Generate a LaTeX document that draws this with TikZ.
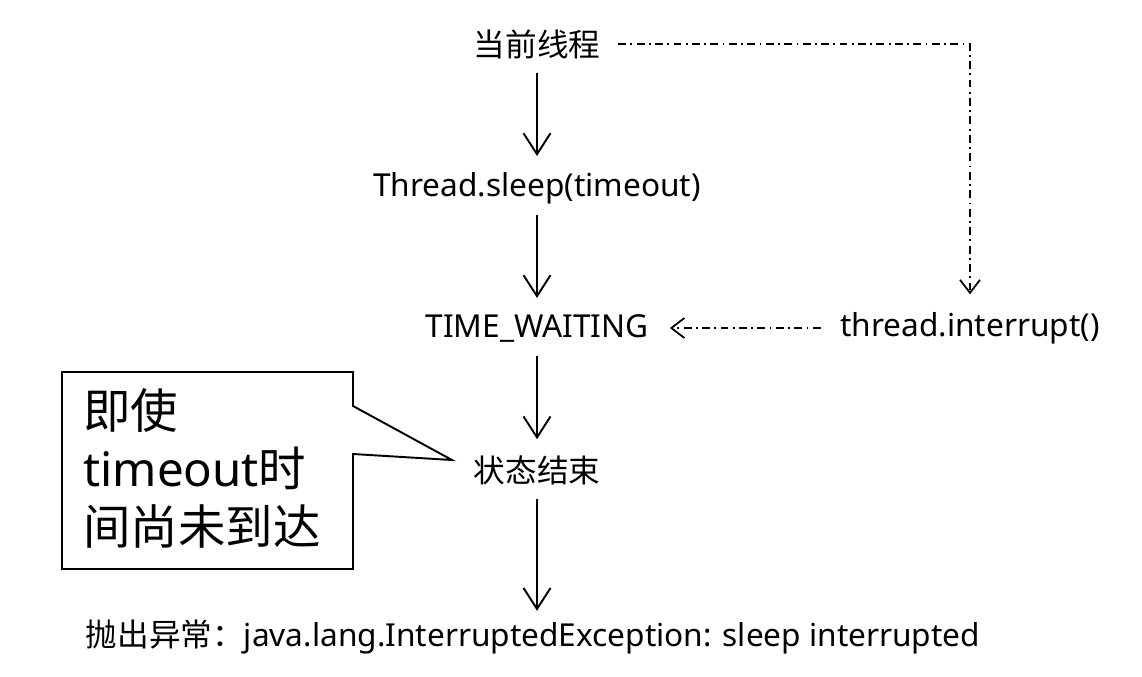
\documentclass[tikz,border=0pt]{standalone}
\usepackage{fontspec}
\setmainfont{Noto Sans}
\newfontfamily\cjk{Noto Sans CJK SC}
\usepackage{tikz}
\usetikzlibrary{arrows.meta,positioning}

\begin{document}
\begin{tikzpicture}[x=0.02cm,y=-0.02cm]

		\tikzset{
		    label text/.style={inner sep=0pt, font=\fontsize{18}{22}\selectfont},
		    flow/.style={line width=1.1pt, -{Straight Barb[length=4.2mm,width=5.4mm,line width=1.1pt]}},
		    dashdot/.style={line width=1pt, dash pattern=on 4.5pt off 2.5pt on 1pt off 2.5pt,
		        -{Straight Barb[length=2.6mm,width=4mm,line width=1pt]}}
		}

		\useasboundingbox (0,0) rectangle (1142,676);

		% flow nodes

		\node[label text] (cur) at (537,44) {\cjk 当前线程};
		\node[label text] (sleep) at (537,188) {Thread.sleep(timeout)};
		\node[label text] (waiting) at (537,328) {TIME\_WAITING};
		\node[label text] (finish) at (537,470) {\cjk 状态结束};
		\node[label text] (exc) at (533,637) {{\cjk 抛出异常：}java.lang.InterruptedException: sleep interrupted};
		\node[label text] (interrupt) at (970,328) {thread.interrupt()};

		% arrows

		\draw[flow, shorten <=8pt, shorten >=9pt] (cur) -- (sleep);
		\draw[flow, shorten <=6pt, shorten >=9pt] (sleep) -- (waiting);
		\draw[flow, shorten <=8pt, shorten >=9pt] (waiting) -- (finish);
		\draw[flow, shorten <=8pt, shorten >=5pt] (finish) -- (finish |- exc.north);

		\draw[dashdot, shorten <=10pt, shorten >=10pt] (cur.east) -| (interrupt.north);
		\draw[dashdot, shorten <=11pt, shorten >=12pt] (interrupt.west) -- (waiting.east);

		% callout

		\draw[line width=1.1pt, line join=miter] (62,372) -- (353,372) -- (353,406) -- (452,460)
		    -- (353,454) -- (353,569) -- (62,569) -- cycle;
		\node[anchor=north west, inner sep=0pt, align=left,
		    font=\fontsize{27}{33}\selectfont] (note) at (83,388)
		    {\cjk 即使\\timeout{\cjk 时}\\\cjk 间尚未到达};

\end{tikzpicture}
\end{document}
